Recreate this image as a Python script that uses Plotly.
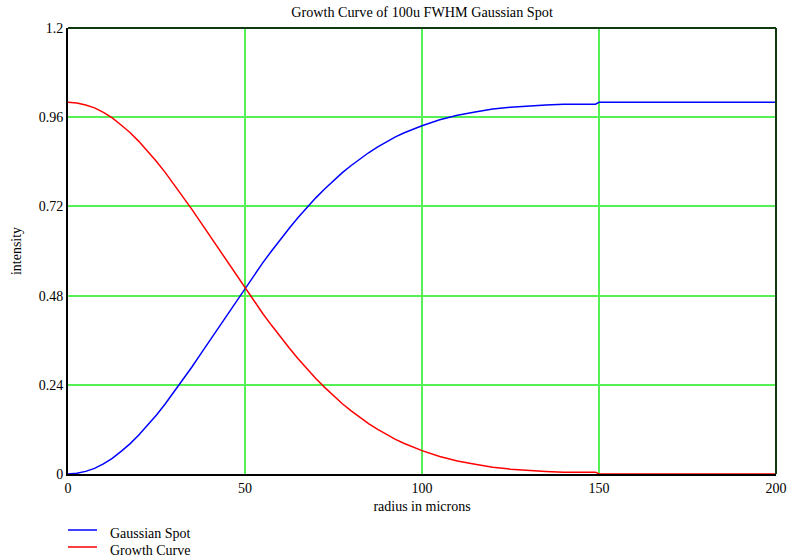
import plotly.graph_objects as go

# radius sample points (microns)
radius = [0, 2.5, 5, 7.5, 10, 12.5, 15, 17.5, 20, 22.5, 25, 27.5, 30, 32.5, 35, 37.5,
          40, 42.5, 45, 47.5, 50, 52.5, 55, 57.5, 60, 62.5, 65, 67.5, 70, 72.5, 75,
          77.5, 80, 82.5, 85, 87.5, 90, 92.5, 95, 97.5, 100, 105, 110, 115, 120,
          125, 130, 135, 140, 145, 149, 150, 200]

# encircled-energy style growth of the spot
gaussian_spot = [0.000, 0.002, 0.007, 0.015, 0.027, 0.042, 0.061, 0.081, 0.105,
                 0.131, 0.159, 0.189, 0.221, 0.254, 0.288, 0.323, 0.358, 0.394,
                 0.430, 0.465, 0.500, 0.534, 0.568, 0.600, 0.632, 0.661, 0.690,
                 0.717, 0.743, 0.767, 0.790, 0.811, 0.830, 0.848, 0.865, 0.880,
                 0.894, 0.907, 0.918, 0.928, 0.937, 0.953, 0.965, 0.974, 0.982,
                 0.987, 0.991, 0.993, 0.995, 0.995, 0.995, 1.000, 1.000]

# remaining fraction outside the radius
growth_curve = [1.000, 0.998, 0.993, 0.985, 0.973, 0.958, 0.939, 0.919, 0.895,
                0.869, 0.841, 0.811, 0.779, 0.746, 0.712, 0.677, 0.642, 0.606,
                0.570, 0.535, 0.500, 0.466, 0.432, 0.400, 0.368, 0.339, 0.310,
                0.283, 0.257, 0.233, 0.210, 0.189, 0.170, 0.152, 0.135, 0.120,
                0.106, 0.093, 0.082, 0.072, 0.063, 0.047, 0.035, 0.026, 0.018,
                0.013, 0.009, 0.007, 0.005, 0.005, 0.005, 0.000, 0.000]

series_names = ["Gaussian Spot", "Growth Curve"]
series_colors = ["#0000ff", "#ff0000"]

x_ticks = [0, 50, 100, 150, 200]
y_ticks = [0, 0.24, 0.48, 0.72, 0.96, 1.2]
y_tick_text = ["0", "0.24", "0.48", "0.72", "0.96", "1.2"]

serif = "Liberation Serif, Times New Roman, serif"
grid_green = "#55f055"

fig = go.Figure()
for name, ys, color in zip(series_names, [gaussian_spot, growth_curve], series_colors):
    fig.add_trace(go.Scatter(x=radius, y=ys, mode="lines", name=name,
                             line=dict(color=color, width=1.5)))

fig.update_layout(
    width=790, height=557,
    margin=dict(l=68, r=14, t=28, b=83),
    paper_bgcolor="white", plot_bgcolor="white",
    font=dict(family=serif, size=14, color="black"),
    title=dict(text="Growth Curve of 100u FWHM Gaussian Spot", x=0.5, xanchor="center",
               xref="paper", y=1, yref="container", yanchor="top", pad=dict(t=7),
               font=dict(family=serif, size=14.2, color="black")),
    showlegend=False,
    xaxis=dict(range=[0, 200], tickmode="array", tickvals=x_ticks, automargin=False,
               showgrid=True, gridcolor=grid_green, gridwidth=2, zeroline=False,
               showline=True, linecolor="black", linewidth=2, ticks="",
               ticklabelstandoff=0,
               title=dict(text="radius in microns", standoff=6,
                          font=dict(family=serif, size=14))),
    yaxis=dict(range=[0, 1.2], tickmode="array", tickvals=y_ticks, ticktext=y_tick_text,
               automargin=False,
               showgrid=True, gridcolor=grid_green, gridwidth=2, zeroline=False,
               showline=True, linecolor="black", linewidth=2, ticks="",
               title=dict(text="intensity", standoff=14,
                          font=dict(family=serif, size=14))),
)

# dark top and right border of the plotting frame
fig.add_shape(type="line", xref="paper", yref="paper", x0=0, x1=1, y0=1, y1=1,
              line=dict(color="#0f3a0f", width=2))
fig.add_shape(type="line", xref="paper", yref="paper", x0=1, x1=1, y0=0, y1=1,
              line=dict(color="#0f3a0f", width=2))

# key below the plot: sample line plus label for each series
plot_h = 557 - 28 - 83
plot_w = 790 - 68 - 14
key_rows_px = [56, 73]  # pixel offsets below the x axis
for name, color, off in zip(series_names, series_colors, key_rows_px):
    yy = -off / plot_h
    fig.add_shape(type="line", xref="paper", yref="paper", x0=0, x1=29 / plot_w,
                  y0=yy, y1=yy, line=dict(color=color, width=1.5))
    fig.add_annotation(text=name, xref="paper", yref="paper", x=40 / plot_w,
                       y=-(off + 3) / plot_h, xanchor="left", yanchor="middle",
                       showarrow=False, font=dict(family=serif, size=14, color="black"))

fig.write_html("out.html")
